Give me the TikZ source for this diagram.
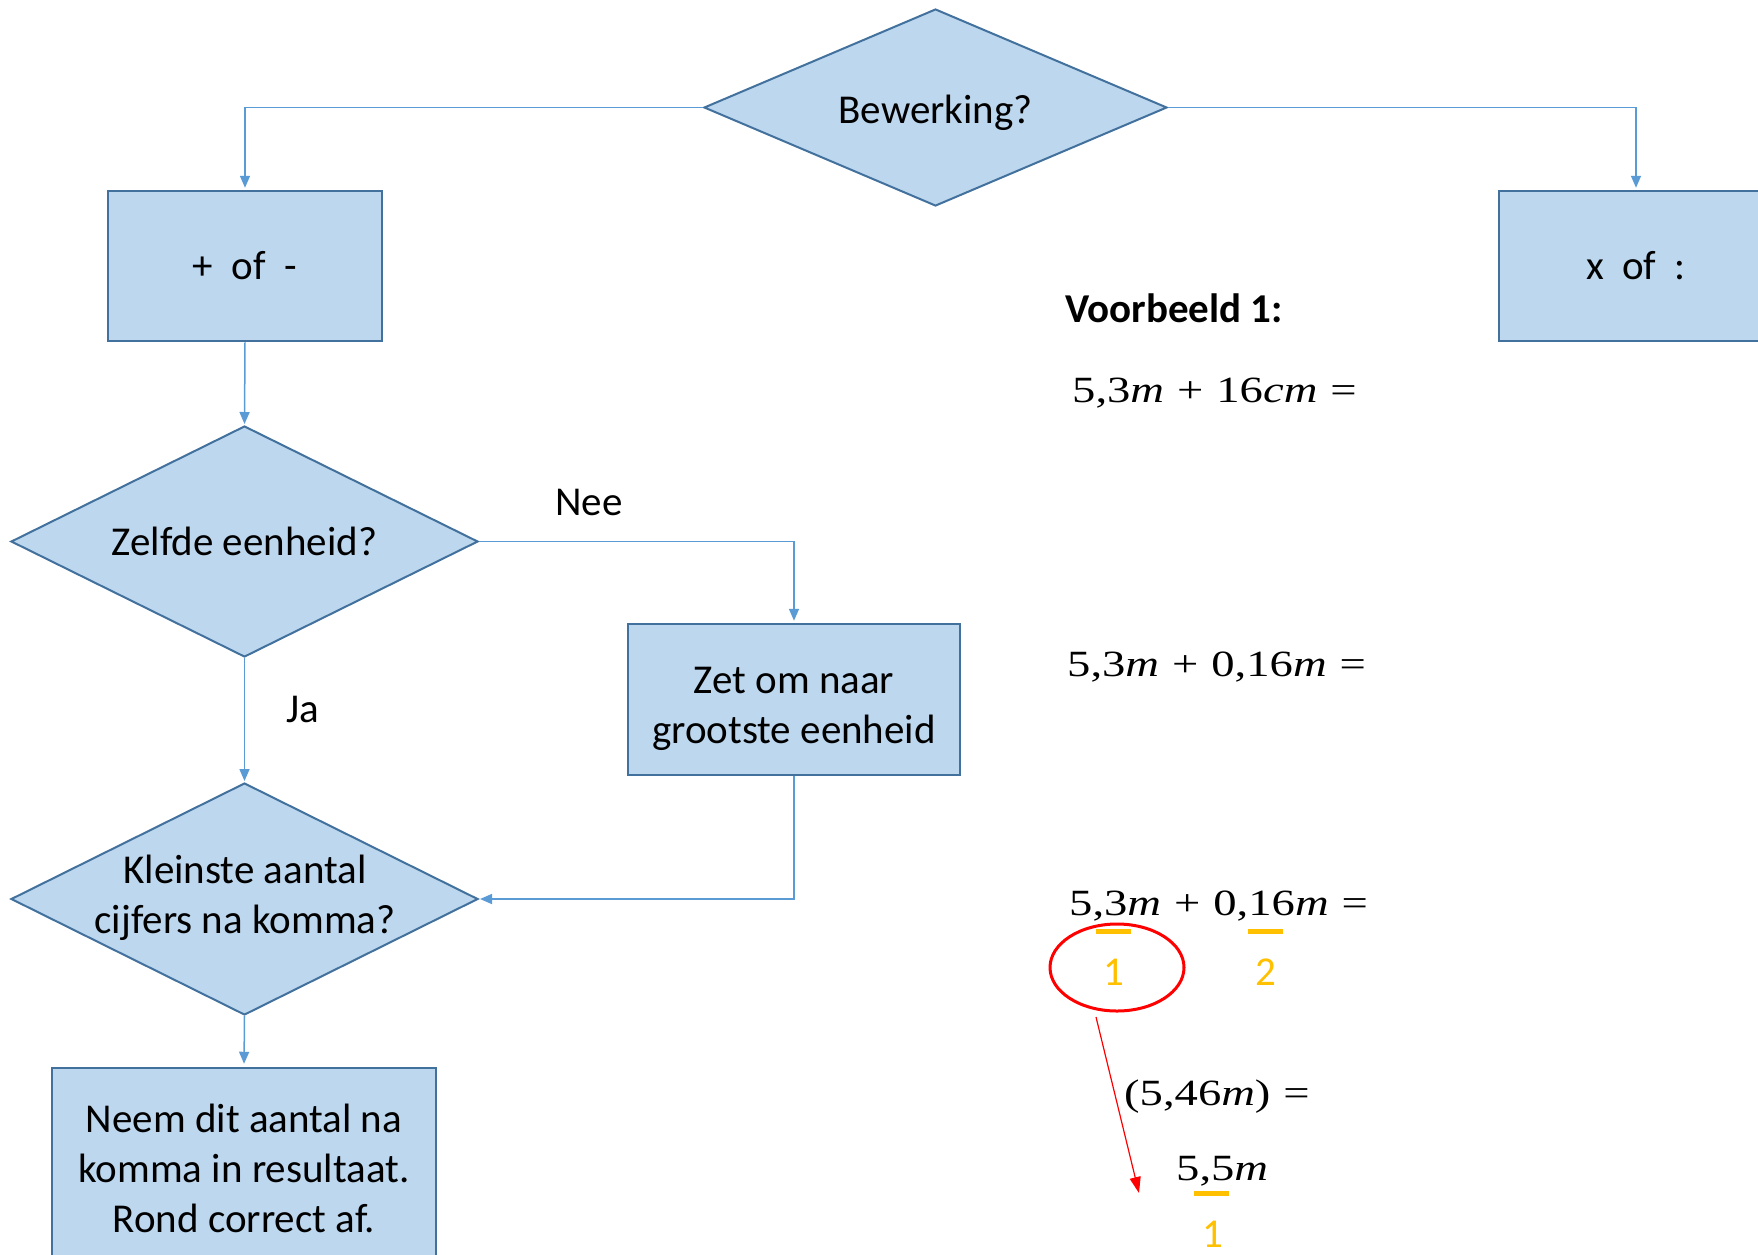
\documentclass[tikz,border=0pt]{standalone}
\usepackage{fontspec}
\setmainfont{Carlito}
\newfontfamily\eqfont[FakeStretch=1.26]{Liberation Serif}
\newcommand\eqsp{\hspace{13pt}}
\usetikzlibrary{shapes.geometric,arrows.meta}
\definecolor{boxfill}{HTML}{BDD7EE}
\definecolor{boxline}{HTML}{41719C}
\definecolor{connc}{HTML}{5B9BD5}
\definecolor{orng}{HTML}{FFC000}
\tikzset{
  fbox/.style={draw=boxline, fill=boxfill, line width=2.5pt, inner sep=0pt, align=center, font=\fontsize{41}{50}\selectfont},
  dia/.style={diamond, draw=boxline, fill=boxfill, line width=2pt, inner sep=0pt},
  lbl/.style={font=\fontsize{41}{50}\selectfont, align=center, inner sep=0pt},
  conn/.style={draw=connc, line width=1.5pt, -{Triangle[length=12pt,width=10pt]}},
  eq/.style={anchor=base west, inner sep=0pt, font=\fontsize{37}{46}\eqfont},
  ul/.style={draw=orng, line width=5pt},
  num/.style={text=orng, anchor=base, inner sep=0pt, font=\fontsize{41}{50}\selectfont},
}
\begin{document}
\begin{tikzpicture}[x=1pt,y=-1pt]
\useasboundingbox[fill=white] (0,0) rectangle (1758,1254);

% diamonds
\node[dia, minimum width=463pt, minimum height=197pt] (bew) at (935.5,107.5) {};
\node[lbl] (bewt) at (935.5,112.5) {Bewerking?};
\node[dia, minimum width=467pt, minimum height=231pt] (zelf) at (244.5,541.5) {};
\node[lbl] (zelft) at (zelf.center) {Zelfde eenheid?};
\node[dia, minimum width=467pt, minimum height=232pt] (klein) at (244.5,899) {};
\node[lbl] (kleint) at (245,898) {Kleinste aantal\\cijfers na komma?};

% boxes
\node[fbox, minimum width=274pt, minimum height=150pt] (plus) at (245,266) {+\ \ of\ \ -};
\node[fbox, minimum width=274pt, minimum height=150pt] (times) at (1636,266) {x\ \ of\ \ :};
\node[fbox, minimum width=332pt, minimum height=151pt] (zet) at (794,699.5) {};
\node[lbl] (zett) at (794,708.5) {Zet om naar\\grootste eenheid};
\node[fbox, minimum width=384pt, minimum height=200pt] (neem) at (244,1168) {Neem dit aantal na\\komma in resultaat.\\Rond correct af.};

% labels
\node[lbl] (nee) at (589,502) {Nee};
\node[lbl] (ja) at (303,709) {Ja};

% connectors
\draw[conn, shorten >=2pt] (bew.west) -| (plus.north);
\draw[conn, shorten >=2pt] (bew.east) -| (times.north);
\draw[conn, shorten >=1pt] (plus.south) -- (zelf.north);
\draw[conn, shorten >=2pt] (zelf.east) -| (zet.north);
\draw[conn, shorten >=1pt] (zelf.south) -- (klein.north);
\draw[conn, shorten >=1pt] (zet.south) |- (klein.east);
\draw[conn, shorten >=3pt] (klein.south) -- (neem.north);

% example
\node[anchor=base west, inner sep=0pt, font=\fontsize{41}{48}\selectfont\bfseries] (vb) at (1065,322) {Voorbeeld 1:};
\node[eq] (eq1) at (1072,402) {5,3\textit{m}\eqsp+\eqsp16\textit{cm}\eqsp=};
\node[eq] (eq2) at (1067,676) {5,3\textit{m}\eqsp+\eqsp0,16\textit{m}\eqsp=};
\node[eq] (eq3) at (1069,915) {5,3\textit{m}\eqsp+\eqsp0,16\textit{m}\eqsp=};
\node[eq] (eq4) at (1124,1105) {(5,46\textit{m})\eqsp=};
\node[eq] (eq5) at (1176,1180) {5,5\textit{m}};

\draw[ul] (1096,931.5) -- (1131,931.5);
\draw[ul] (1248,931.5) -- (1283,931.5);
\draw[ul] (1194,1193.5) -- (1229,1193.5);

\node[num] (n1) at (1114,985) {1};
\node[num] (n2) at (1266,985) {2};
\node[num] (n3) at (1213,1247) {1};

\node[draw=red, line width=3pt, ellipse, minimum width=134pt, minimum height=87pt, inner sep=0pt] (circ) at (1117,967.5) {};
\coordinate (rs) at (1096,1017);
\coordinate (re) at (1139,1193);
\draw[red, line width=1.2pt, -{Triangle[length=16pt,width=11pt]}] (rs) -- (re);
\end{tikzpicture}
\end{document}
